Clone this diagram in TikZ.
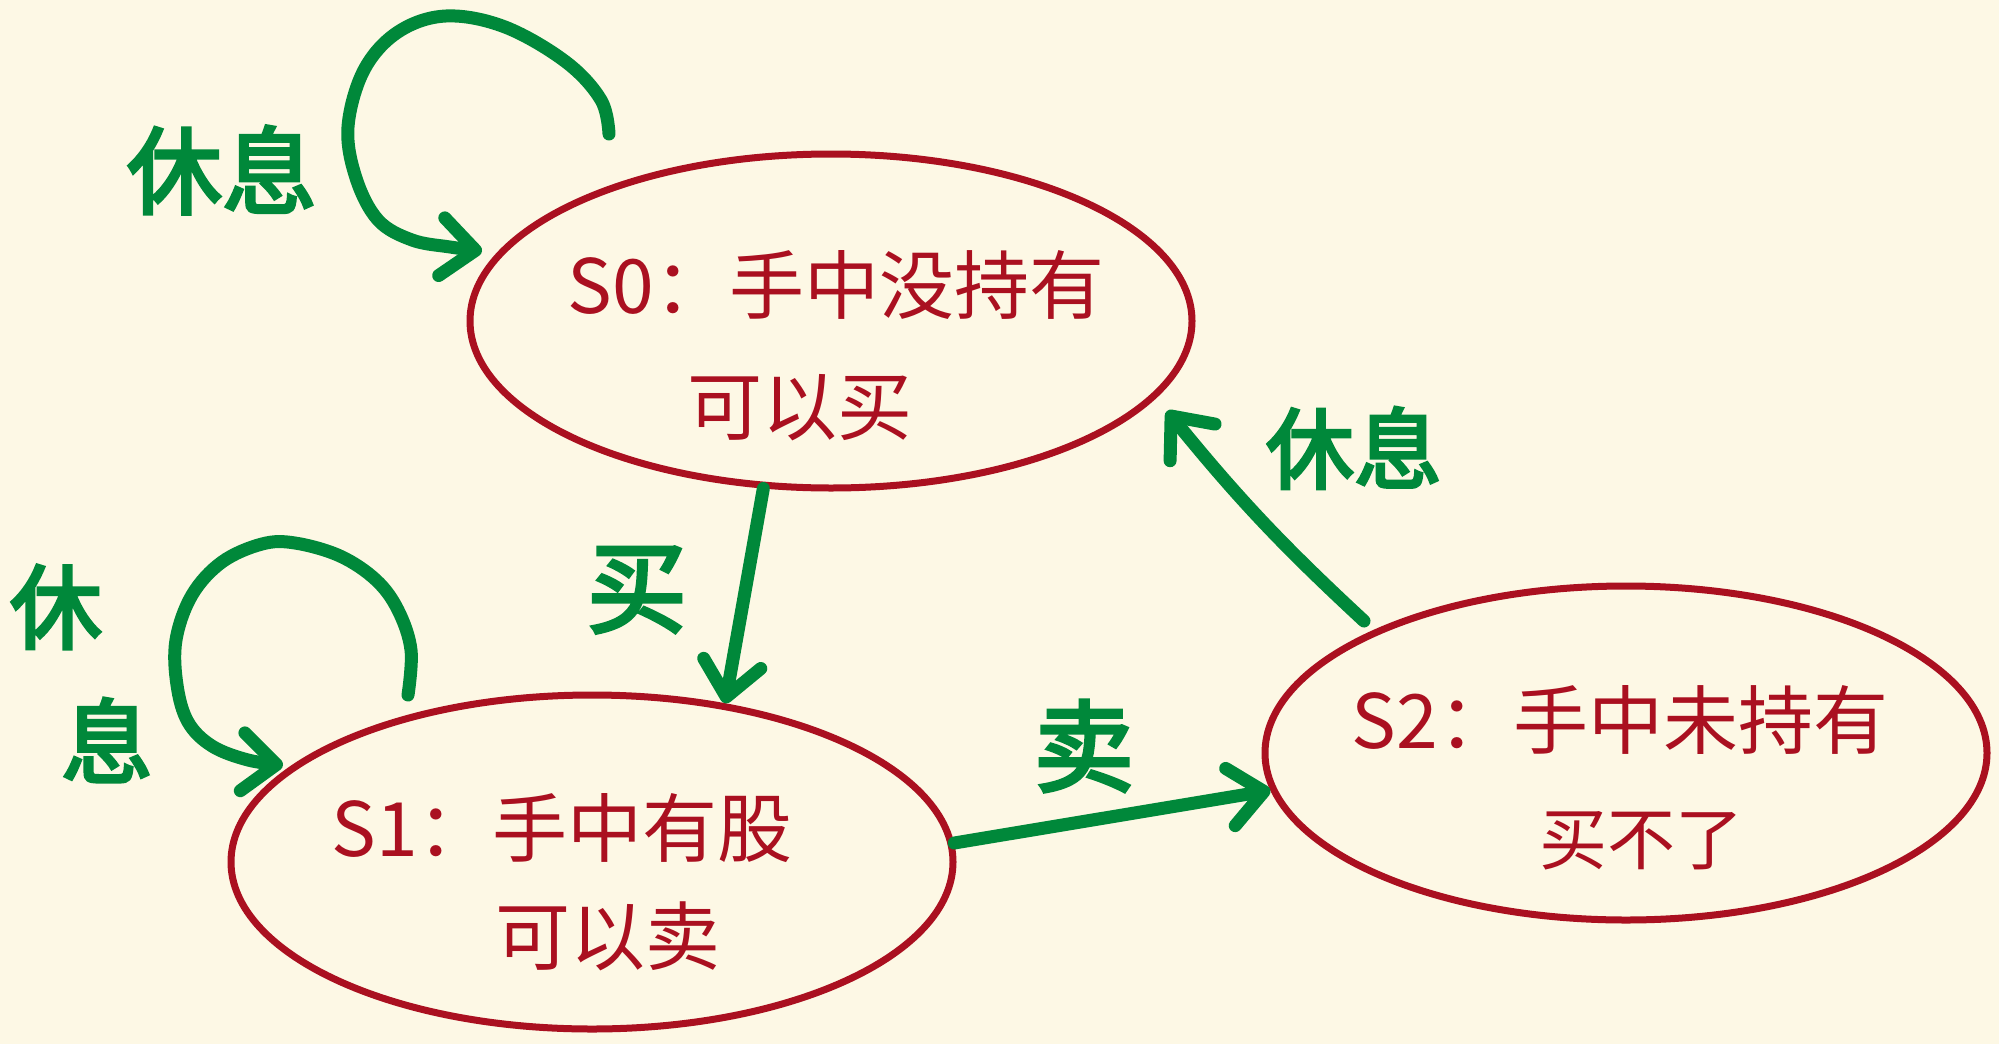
\documentclass[tikz,border=0pt]{standalone}
\usepackage{fontspec}
\usetikzlibrary{shapes.geometric,arrows.meta}
\newfontfamily\cjk{Noto Sans CJK SC}
\newfontfamily\cjkg[FakeBold=3.5]{Noto Sans CJK SC}
\definecolor{bg}{RGB}{253,248,229}
\definecolor{sred}{RGB}{170,16,32}
\definecolor{sgreen}{RGB}{0,136,58}
\begin{document}
\begin{tikzpicture}[x=1pt,y=-1pt,
  state/.style={ellipse, draw=sred, line width=7pt, inner sep=0pt, minimum width=722pt, minimum height=334pt},
  stxt/.style={text=sred, font=\cjk\fontsize{75}{80}\selectfont, inner sep=0pt},
  glbl/.style={text=sgreen, font=\cjkg\fontsize{95}{100}\selectfont, inner sep=0pt},
  garrow/.style={draw=sgreen, line width=13pt, line cap=round, line join=round, -{Straight Barb[length=34pt,width=58pt,round]}}]
\fill[bg] (0,0) rectangle (1999,1044);
\useasboundingbox (0,0) rectangle (1999,1044);

% states
\node[state] (s0) at (831,321) {};
\node[state] (s1) at (592,862) {};
\node[state] (s2) at (1626,753) {};

% state texts
\node[stxt] (s0a) at (836,285) {S0：手中没持有};
\node[stxt] (s0b) at (800,408) {可以买};
\node[stxt] (s1a) at (562,828) {S1：手中有股};
\node[stxt] (s1b) at (608,936) {可以卖};
\node[stxt] (s2a) at (1620,720) {S2：手中未持有};
\node[stxt,font=\cjk\fontsize{68}{72}\selectfont] (s2b) at (1641,841) {买不了};

% labels
\node[glbl] (lr0) at (222,170) {休息};
\node[glbl,font=\cjkg\fontsize{92}{100}\selectfont] (lr1a) at (56,607) {休};
\node[glbl,font=\cjkg\fontsize{92}{100}\selectfont] (lr1b) at (107,740) {息};
\node[glbl,font=\cjkg\fontsize{88}{100}\selectfont] (lr2) at (1354,448) {休息};
\node[glbl,font=\cjkg\fontsize{100}{100}\selectfont] (lbuy) at (637,590) {买};
\node[glbl,font=\cjkg\fontsize{100}{100}\selectfont] (lsell) at (1084,746) {卖};

% loop end points
\coordinate (l0t) at (609,134);
\coordinate (l0h) at (482,251);
\coordinate (l1t) at (408,695);
\coordinate (l1h) at (283,765);
\coordinate (r2t) at (1364,621);
\coordinate (r2h) at (1167,411);

% self loop S0
\draw[garrow] plot[smooth, tension=0.6] coordinates {(l0t) (601,100) (566,62) (505,27) (446,16) (398,32) (364,70) (348,127) (356,178) (378,220) (412,240) (450,247) (l0h)};
% self loop S1
\draw[garrow] plot[smooth, tension=0.6] coordinates {(l1t) (411,650) (398,610) (376,580) (340,556) (295,543) (262,544) (222,562) (192,595) (176,640) (177,685) (188,722) (212,746) (248,760) (l1h)};

% buy: S0 -> S1
\draw[garrow] (s0.248) -- (s1.50);
% sell: S1 -> S2
\draw[garrow] (s1.3) -- (s2.186);
% rest: S2 -> S0
\draw[garrow] (r2t) to[bend left=4] (r2h);
\end{tikzpicture}
\end{document}
